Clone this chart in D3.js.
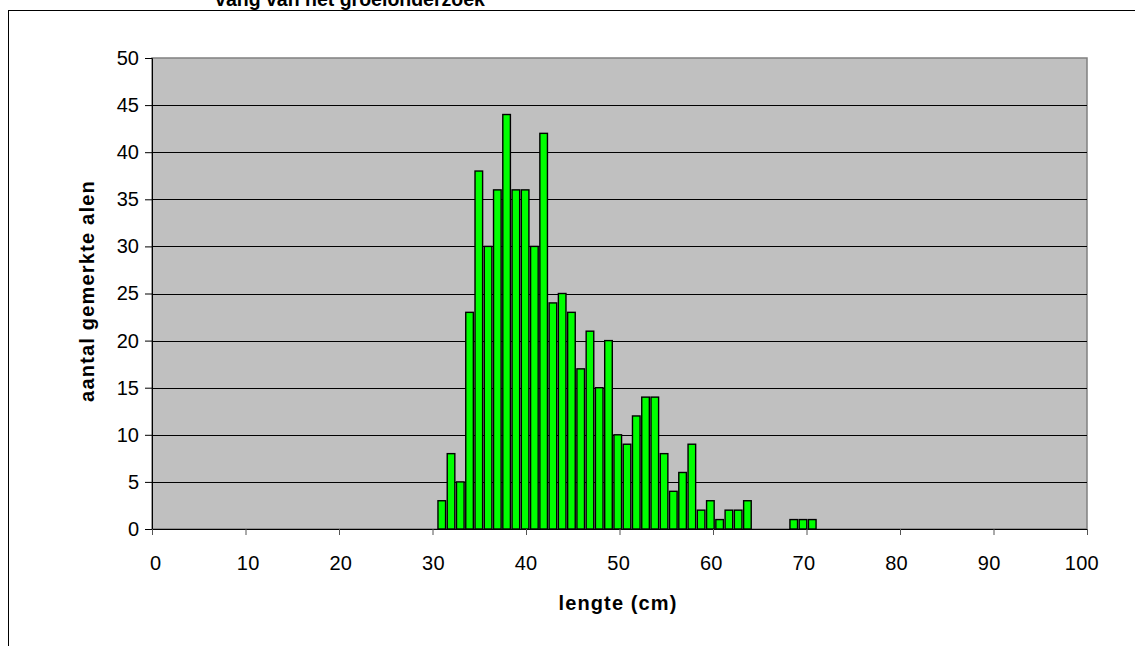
<!DOCTYPE html>
<html><head><meta charset="utf-8">
<script src="https://cdn.jsdelivr.net/npm/d3@7"></script>
<style>
body{margin:0;background:#fff;}
svg{display:block;font-family:"Liberation Sans",Arial,sans-serif;}
</style></head><body>
<svg id="c" width="1135" height="646"></svg>
<script>
const title = "vang van het groeionderzoek";
const xTitle = "lengte (cm)";
const yTitle = "aantal gemerkte alen";
const lengths = [31,32,33,34,35,36,37,38,39,40,41,42,43,44,45,46,47,48,49,50,51,52,53,54,55,56,57,58,59,60,61,62,63,64,69,70,71];
const counts  = [3,8,5,23,38,30,36,44,36,36,30,42,24,25,23,17,21,15,20,10,9,12,14,14,8,4,6,9,2,3,1,2,2,3,1,1,1];
const xTicks = [0,10,20,30,40,50,60,70,80,90,100];
const yTicks = [0,5,10,15,20,25,30,35,40,45,50];

const svg = d3.select("#c");
const L=152, R=1087, T=58, B=529;

// outer chart frame
svg.append("rect").attr("x",8.5).attr("y",10.5).attr("width",1140).attr("height",700)
  .attr("fill","#fff").attr("stroke","#000").attr("stroke-width",1);

// title (clipped at top as in reference)
svg.append("text").attr("x",350).attr("y",6).attr("text-anchor","middle")
  .attr("font-weight","bold").attr("font-size",19.5).text(title);

const cats = d3.range(0,101);
const xb = d3.scaleBand().domain(cats).range([150,1085.5]).paddingInner(0.2).paddingOuter(0.1);
const xl = d3.scaleLinear().domain([0,100]).range([L,R]);
const y = d3.scaleLinear().domain([0,50]).range([B,T]);

// plot area
svg.append("rect").attr("x",L).attr("y",T).attr("width",R-L).attr("height",B-T)
  .attr("fill","#c0c0c0").attr("stroke","#808080").attr("stroke-width",1.5);

// grid
svg.append("g").selectAll("line").data(yTicks.filter(d=>d>0&&d<50)).join("line")
  .attr("x1",L).attr("x2",R).attr("y1",d=>Math.round(y(d))+0.5).attr("y2",d=>Math.round(y(d))+0.5)
  .attr("stroke","#000").attr("stroke-width",1);

// bars
svg.append("g").selectAll("rect").data(lengths.map((l,i)=>({l,c:counts[i]}))).join("rect")
  .attr("x",d=>xb.bandwidth()/2 + xb(d.l) - 3.8).attr("width",7.6)
  .attr("y",d=>y(d.c)).attr("height",d=>B-y(d.c))
  .attr("fill","#00ff00").attr("stroke","#000").attr("stroke-width",1.4);

// y axis
const ya = d3.axisLeft(y).tickValues(yTicks).tickSize(7).tickPadding(5);
const yg = svg.append("g").attr("transform",`translate(${L},0)`).call(ya);
yg.select(".domain").attr("stroke","#000");
yg.selectAll(".tick line").attr("stroke","#000");
yg.selectAll("text").attr("font-size",20).attr("font-family","Liberation Sans, Arial, sans-serif").attr("fill","#000").attr("dx",-1);

// x axis line & ticks (value axis)
const xa = d3.axisBottom(xl).tickValues(xTicks).tickSize(6).tickFormat("");
const xg = svg.append("g").attr("transform",`translate(0,${B})`).call(xa);
xg.select(".domain").attr("stroke","#000");
xg.selectAll(".tick line").attr("stroke","#555");

// x labels (aligned to category centres)
svg.append("g").selectAll("text").data(xTicks).join("text")
  .attr("x",d=>xb(d)+xb.bandwidth()/2+1).attr("y",570).attr("text-anchor","middle")
  .attr("font-size",20).attr("letter-spacing",0.3).text(d=>d);

// axis titles
svg.append("text").attr("x",618).attr("y",610).attr("text-anchor","middle")
  .attr("font-weight","bold").attr("font-size",20).attr("letter-spacing",1.1).text(xTitle);
svg.append("text").attr("transform","translate(94,291) rotate(-90)").attr("text-anchor","middle")
  .attr("font-weight","bold").attr("font-size",20).attr("letter-spacing",1.2).text(yTitle);
</script>
</body></html>
